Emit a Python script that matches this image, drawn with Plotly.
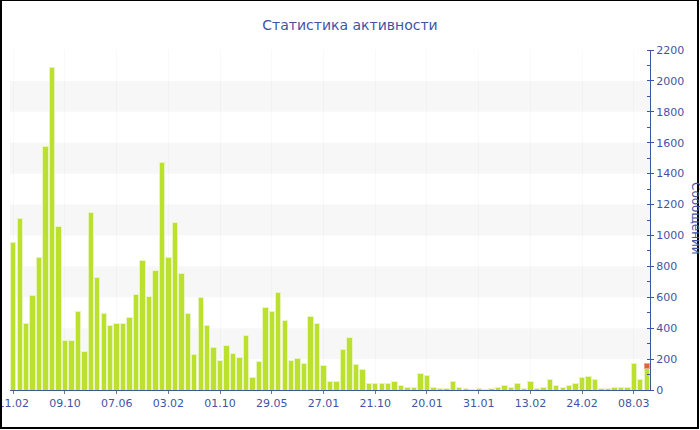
import plotly.graph_objects as go

# ---- data ----
values = [955, 1111, 431, 613, 860, 1577, 2088, 1057, 319, 319,
          511, 246, 1147, 729, 496, 418, 429, 429, 472, 621,
          835, 602, 772, 1475, 860, 1083, 755, 492, 231, 600,
          418, 278, 188, 285, 233, 211, 352, 82, 183, 533,
          509, 632, 449, 188, 205, 172, 474, 429, 158, 58,
          52, 265, 338, 168, 134, 45, 45, 43, 45, 52,
          26, 19, 13, 106, 97, 17, 11, 11, 58, 17,
          11, 6, 11, 5, 9, 19, 32, 17, 43, 7,
          58, 11, 19, 69, 26, 13, 30, 43, 82, 88,
          69, 9, 9, 17, 17, 13, 172, 69, 142]
extra = [None] * 98 + [28]
tick_labels = ["11.02", "09.10", "07.06", "03.02", "01.10", "29.05", "27.01",
               "21.10", "20.01", "31.01", "13.02", "24.02", "08.03"]
tick_step = 8
bands = [(200, 400), (600, 800), (1000, 1200), (1400, 1600), (1800, 2000)]

title_text = "Статистика активности"
y_title = "Сообщений"

# ---- styling ----
BLUE = "#3f55a3"
GREEN = "#bbe02d"
RED = "#e2603a"
FONT = "DejaVu Sans"

x = list(range(len(values)))
tickvals = [i * tick_step for i in range(len(tick_labels))]

fig = go.Figure()
fig.add_trace(go.Bar(x=x, y=values, marker=dict(color=GREEN,
                     line=dict(color="rgba(232,246,190,0.95)", width=1)),
                     hoverinfo="y"))
fig.add_trace(go.Bar(x=x, y=extra, marker=dict(color=RED,
                     line=dict(color="rgba(240,160,130,0.9)", width=1)),
                     hoverinfo="y"))

shapes = []
for lo, hi in bands:
    shapes.append(dict(type="rect", xref="paper", yref="y", x0=0, x1=1,
                       y0=lo, y1=hi, fillcolor="#f7f7f7", line=dict(width=0),
                       layer="below"))

W, H = 700, 430
ml, mr, mt, mb = 10, 50, 50, 40
pw, ph = W - ml - mr, H - mt - mb
def px(v):
    return (v - ml) / pw
def py(v):
    return (H - mb - v) / ph
shapes.append(dict(type="rect", xref="paper", yref="paper",
                   x0=px(1), x1=px(698), y0=py(428), y1=py(0),
                   line=dict(color="black", width=2), fillcolor="rgba(0,0,0,0)",
                   layer="above"))

fig.update_layout(
    width=W, height=H,
    margin=dict(l=ml, r=mr, t=mt, b=mb, pad=0),
    paper_bgcolor="white", plot_bgcolor="white",
    barmode="stack", bargap=0.17,
    showlegend=False,
    font=dict(family=FONT, size=11, color=BLUE),
    title=dict(text=title_text, x=0.5, xref="container", xanchor="center",
               y=1 - 25 / H, yref="container", yanchor="middle",
               font=dict(family=FONT, size=14, color=BLUE)),
    shapes=shapes,
    annotations=[dict(text=y_title, xref="paper", yref="paper",
                      x=px(696), y=py(218), showarrow=False, textangle=90,
                      xanchor="center", yanchor="middle",
                      font=dict(family=FONT, size=12, color=BLUE))],
    xaxis=dict(range=[-0.5, len(values) - 0.5], tickvals=tickvals,
               ticktext=tick_labels, showline=True, linecolor=BLUE, linewidth=1,
               ticks="outside", ticklen=3, tickcolor="#777",
               showgrid=True, gridcolor="rgba(0,0,0,0.025)",
               zeroline=False, automargin=False, ticklabeloverflow="allow",
               tickfont=dict(family=FONT, size=11, color=BLUE)),
    yaxis=dict(side="right", range=[0, 2200], dtick=200, showgrid=False,
               zeroline=False, showline=True, linecolor=BLUE, linewidth=1,
               ticks="outside", ticklen=3, tickcolor=BLUE,
               minor=dict(dtick=100, ticks="inside", ticklen=3, tickcolor=BLUE,
                          showgrid=False),
               automargin=False,
               tickfont=dict(family=FONT, size=11, color=BLUE)),
)

fig.write_html("out.html", config={"displayModeBar": False},
               post_script="document.body.style.margin='0';document.body.style.padding='0';")
